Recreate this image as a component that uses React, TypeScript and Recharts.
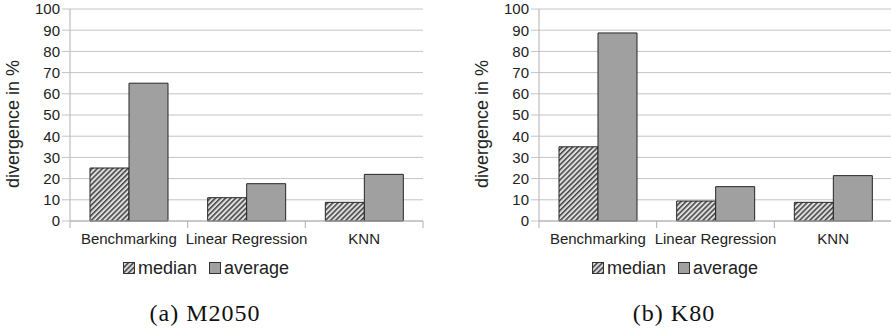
import React from 'react';
import { BarChart, Bar, XAxis, YAxis, CartesianGrid, Legend } from 'recharts';

const categories = ['Benchmarking', 'Linear Regression', 'KNN'];
const m2050Median = [25, 11, 8.8];
const m2050Average = [65, 17.6, 22];
const k80Median = [35, 9.4, 8.8];
const k80Average = [88.7, 16.2, 21.4];
const yTicks = [0, 10, 20, 30, 40, 50, 60, 70, 80, 90, 100];
const seriesNames = ['median', 'average'];
const captions = ['(a) M2050', '(b) K80'];

const FONT = '"Liberation Sans", Arial, sans-serif';
const TEXT = '#222';
const GRID = '#c4c4c4';
const AXIS = '#b0b0b0';
const BAR_STROKE = '#262626';
const AVG_FILL = '#a0a0a0';

const buildRows = (median: number[], average: number[]) =>
  categories.map((c, i) => ({ name: c, median: median[i], average: average[i] }));

const HatchDef = ({ id }: { id: string }) => (
  <pattern id={id} patternUnits="userSpaceOnUse" width={3.6} height={3.6} patternTransform="rotate(45)">
    <rect x={0} y={0} width={3.6} height={3.6} fill="#dedede" />
    <line x1={0.8} y1={0} x2={0.8} y2={3.6} stroke="#262626" strokeWidth={1.3} />
  </pattern>
);

const CategoryTick = (props: any) => {
  const { x, y, payload, index, visibleTicksCount } = props;
  const half = payload.offset || 0;
  const last = index === (visibleTicksCount ?? 3) - 1;
  return (
    <g>
      <line x1={x - half} y1={y} x2={x - half} y2={y + 7} stroke={AXIS} strokeWidth={1} />
      {last && <line x1={x + half} y1={y} x2={x + half} y2={y + 7} stroke={AXIS} strokeWidth={1} />}
      <text x={x} y={y + 23} textAnchor="middle" fontFamily={FONT} fontSize={15} fill={TEXT}>
        {payload.value}
      </text>
    </g>
  );
};

const YLabel = (props: any) => {
  const vb = props.viewBox || { x: 0, y: 0, width: 70, height: 212 };
  const cx = vb.x + 13;
  const cy = vb.y + vb.height / 2 + 9;
  return (
    <text
      x={cx}
      y={cy}
      transform={`rotate(-90 ${cx} ${cy})`}
      textAnchor="middle"
      dominantBaseline="central"
      fontFamily={FONT}
      fontSize={18}
      fill={TEXT}
    >
      divergence in %
    </text>
  );
};

const makeLegend = (hatchId: string) => (props: any) => {
  const payload = [...(props.payload || [])].sort(
    (a: any, b: any) => seriesNames.indexOf(a.value) - seriesNames.indexOf(b.value)
  );
  return (
    <div style={{ display: 'flex', alignItems: 'center', fontFamily: FONT, fontSize: 18, color: TEXT, lineHeight: '20px' }}>
      {payload.map((p: any, i: number) => (
        <div key={i} style={{ display: 'flex', alignItems: 'center', marginRight: 12 }}>
          <svg width={12} height={12} style={{ display: 'block' }}>
            <defs>
              <HatchDef id={hatchId + '-lg'} />
            </defs>
            <rect
              x={0.5}
              y={0.5}
              width={11}
              height={11}
              fill={p.value === 'median' ? `url(#${hatchId}-lg)` : AVG_FILL}
              stroke="#333"
              strokeWidth={1}
            />
          </svg>
          <span style={{ marginLeft: 3 }}>{p.value}</span>
        </div>
      ))}
    </div>
  );
};

const Panel = ({ median, average, hatchId, left, caption }: any) => {
  const data = buildRows(median, average);
  return (
    <div style={{ position: 'absolute', left, top: 0, width: 430, height: 329 }}>
      <BarChart
        width={430}
        height={250}
        data={data}
        margin={{ top: 9, right: 7, left: 0, bottom: 0 }}
        barCategoryGap="17%"
        barGap={0}
      >
        <defs>
          <HatchDef id={hatchId} />
        </defs>
        <CartesianGrid vertical={false} stroke={GRID} strokeWidth={1} />
        <XAxis
          dataKey="name"
          height={29}
          tickLine={false}
          tickSize={0}
          tickMargin={0}
          axisLine={{ stroke: AXIS }}
          tick={<CategoryTick />}
          interval={0}
        />
        <YAxis
          width={70}
          domain={[0, 100]}
          ticks={yTicks}
          interval={0}
          tickSize={8}
          tickMargin={2}
          tickLine={{ stroke: GRID }}
          axisLine={{ stroke: AXIS }}
          tick={{ fontFamily: FONT, fontSize: 15, fill: TEXT }}
          label={<YLabel />}
        />
        <Legend
          layout="horizontal"
          verticalAlign="middle"
          align="center"
          wrapperStyle={{ position: 'absolute', left: 123, top: 258, width: 220, height: 22 }}
          content={makeLegend(hatchId)}
        />
        <Bar dataKey="median" name={seriesNames[0]} fill={`url(#${hatchId})`} stroke={BAR_STROKE} strokeWidth={1} isAnimationActive={false} />
        <Bar dataKey="average" name={seriesNames[1]} fill={AVG_FILL} stroke={BAR_STROKE} strokeWidth={1} isAnimationActive={false} />
      </BarChart>
      <div
        style={{
          position: 'absolute',
          left: 0,
          width: 410,
          top: 298,
          textAlign: 'center',
          fontFamily: '"Liberation Serif", "DejaVu Serif", serif',
          fontSize: 24,
          lineHeight: '30px',
          letterSpacing: 1,
          color: '#111',
        }}
      >
        {caption}
      </div>
    </div>
  );
};

export default function App() {
  return (
    <div style={{ position: 'absolute', left: 0, top: 0, width: 891, height: 329, overflow: 'hidden', background: '#fff' }}>
      <Panel median={m2050Median} average={m2050Average} hatchId="hatchA" left={0} caption={captions[0]} />
      <Panel median={k80Median} average={k80Average} hatchId="hatchB" left={469} caption={captions[1]} />
    </div>
  );
}
